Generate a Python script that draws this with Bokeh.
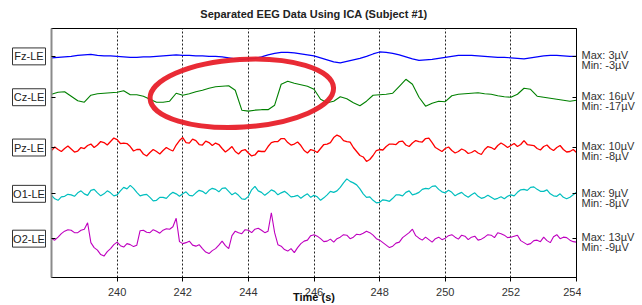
import numpy as np
from bokeh.plotting import figure
from bokeh.models import Range1d, FixedTicker, LinearAxis, CustomJSTickFormatter
from bokeh.layouts import row
from bokeh.core.properties import value
from bokeh.embed import file_html
from bokeh.resources import INLINE

# ---------------- data ----------------
t_start, t_end = 238, 254
time_coarse = np.linspace(t_start, t_end, 81)     # 0.2 s sample grid
time_fine = np.linspace(t_start, t_end, 161)      # 0.1 s sample grid

fz = [-1.5, -1, -0.5, 0, 1, 1.5, 2, 1, 0.5, 0.5,
      0, -0.5, -1, -1, -0.5, -0.5, 0, 0.5, 1, 1.5,
      1, 1, 0.5, 0.5, 0, 0, -0.5, -1.5, -2.5, -3,
      -2.5, -2, -0.5, 1.5, 3, 4, 4, 3.5, 2.5, 1.5,
      0.5, -1.5, -3.5, -5.5, -6.5, -5, -3.5, -2, 0, 2.5,
      4.5, 4, 3, 1.5, -0.5, -2.5, -4, -3.5, -3, -2,
      -1, 0, 1, 1, 1, 0.5, 0, -0.5, -1, -1,
      -1.5, -2, -2.5, -1.5, -0.5, 0.5, 1, 1, 0.5, 0, 0]

cz = [3, 5, 5.5, 1, -3.5, -5, 2, 3.5, 4, 4.5,
      5, 6.5, 2.5, 2.5, 1, -2, -5, -5, -4, 4,
      2, 3.5, 5.5, 7, 9, 10.5, 11, 11.5, 7, -13,
      -14, -13, -12.5, -12.5, -8, 13, 16, 14, 12.5, 11,
      8, -2, -5.5, -4, 0.5, -1.5, -5.5, -8.5, -4, 2,
      2.5, 3, 4, 11, 18, 13, 0, -9, -6, -4,
      -4.5, 1.5, 3, 3.5, 4, 4.5, 3.5, 3, 1.5, 0.5,
      0, 3, 9, 8, 1, 0, -1, -2, -3, -4, -3]

# noisy channels: values on the 0.2 s grid plus the in-between 0.1 s samples
pz_grid = [-3, -2, -1, -1.5, -3.5, -1, 3.5, 2.5, 5, 6,
           8, 4.5, 1, -2, -6.5, -5, -4, -3, -2, 2.5,
           10, 4.5, 7, 2.5, 5, 4.5, -1, -2, -4, -3,
           -5.5, -7.5, -4, 1, 6, 9, 5, 3.5, 2, -5.5,
           -3, -1, 3.5, 10, 11, 6, 0, -8, -14, -8,
           -2, 1, 3.5, 6, 2.5, 4.5, 6, 9, 5, -2,
           -1, -3, -4, -3, -5, -5.5, -2, 0, 2, 2.5,
           2, 1, 7, 2.5, -1, 1, -1, 0, -2, -4, -5]
pz_mid = [0.5, -4, 1.5, -4.5, 0, 2, 0, 6, 2.5, 9.5,
          4, 4, -3.5, -2, -8.5, -2, -6.5, 0, -3.5, 7,
          5, 8.5, 3, 6.5, 2, 3, -4.5, 1, -6.5, -2,
          -8.5, -3.5, -4, 5, 6, 9, 2.5, 5.5, -3, -2,
          -5, 3, 5, 12.5, 7, 5.5, -4, -9.5, -12, -3,
          -2.5, 3.5, 3, 6.5, 1, 7, 5.5, 9.5, 0, -4,
          0.5, -5.5, -1.5, -6, -3, -7, 1, -2, 4.5, 0,
          4, 3, 3, 2, -2.5, 2.5, -3, 2, -4.5, -2]

o1_grid = [-1.5, -6.5, -2.5, -1, 1, 0, 3.5, 1, 0, 1,
           -1, 6.5, 8.5, 1.5, -1, -3.5, -6.5, -3.5, -1, 0,
           0, -1.5, 1, 2.5, 3.5, 4.5, 5.5, 2.5, 1, -5,
           -2.5, 7.5, 1.5, 1, 2.5, 1, 0, -2.5, -4.5, 0,
           -1.5, -6.5, -1, 1.5, 6.5, 15, 11, 5, -3.5, -6.5,
           -8.5, -6.5, -4.5, -1, 1.5, -1, 1.5, 5.5, 7.5, 4.5,
           1, 1.5, 0, -1.5, -1, -2.5, -3.5, -3.5, -4.5, -5,
           -1, 1.5, 4.5, 6.5, 4.5, 2.5, 0, -2.5, -3.5, -3.5, 1.5]
o1_mid = [-5, -3, -0.5, -2.5, 3, -1.5, 4.5, -2, 3, -2,
          3, 5, 5.5, -2, -0.5, -7, -3.5, -4.5, 1.5, -2.5,
          2, -2, 3.5, 0, 5.5, 2, 6, -1, -1.5, -5.5,
          4, 3, -1.5, 4, -1, 2.5, -3, -1.5, -2, -3.5,
          -3, -4, 2.5, 3, 11, 12.5, 9, 0, -3, -9,
          -6, -7.5, -1, -2, 3, 0, 4.5, 5, 8, 2,
          3.5, -2, 1.5, -3.5, 1, -4.5, -1.5, -5.5, -3, -2.5,
          -2, 4, 3.5, 7, 2.5, 4, -2, 0, -5, -1]

o2_grid = [0, 1.5, 7.5, 8.5, 6, 9.5, -4, -11.5, -17.5, -10,
           -3.5, -8.5, -6, -6.5, 8.5, 6, 7.5, 8.5, 9.5, 20.5,
           -5, -2.5, -7.5, -10, -15, -10, -2.5, -10, 7.5, 5,
           8.5, 9.5, 8.5, 7.5, 6, -7.5, -12.5, -14, -5, -1.5,
           4, 0, -2.5, -3.5, 1.5, 3.5, 1.5, 4, 7.5, 3.5,
           -1.5, -6.5, -7.5, -3.5, 3.5, 9.5, 0.5, 1.5, -3.5, 1.5,
           0.5, 4, -0.5, 2.5, 1.5, -1.5, 1.5, 3.5, 6, 3.5,
           1.5, 3.5, -4, -5, -1.5, 1.5, -4, 4, 1.5, -1.5, -3.5]
o2_mid = [-1.5, 5, 9, 6, 8.5, 16, -9, -16, -13, -6,
          -7, -5, -8, 8, 6.5, 9, 5.5, 10, 12, -3,
          -4, -6.5, -6, -13.5, -12, -6.5, -7, 3, 6, 9,
          6, 10.5, 6, 26, -6, -11, -10, -9, -2.5, 3,
          2.5, -3, -0.5, 0, 4, 0, 4.5, 5.5, 6, 0,
          -4, -9, -4.5, 1, 6, 3, -1.5, -1, 0, -1,
          3, 1.5, 3.5, -1, 2.5, -0.5, 4, 1, 5, 1,
          2.5, -2, -6, -2, -3, -2, 2, 0, 1, -3]


def merge(grid, mid):
    out = []
    for g, m in zip(grid[:-1], mid):
        out += [g, m]
    return out + [grid[-1]]


channels = ["Fz-LE", "Cz-LE", "Pz-LE", "O1-LE", "O2-LE"]
series = [(time_coarse, fz), (time_coarse, cz),
          (time_fine, merge(pz_grid, pz_mid)),
          (time_fine, merge(o1_grid, o1_mid)),
          (time_fine, merge(o2_grid, o2_mid))]
offsets = [222, 181, 130.5, 84, 39]
max_uv = [3, 16, 10, 9, 13]
min_uv = [-3, -17, -8, -8, -9]
x_ticks = [240, 242, 244, 246, 248, 250, 252, 254]

# styles
colors = ["#0000ff", "#008000", "#ff0000", "#00bfbf", "#bf00bf"]
widths = [1.1, 1.1, 1.3, 1.2, 1.1]
FONT = "Liberation Sans"
H = 305
TOP, BOTTOM = 27, 28
LEFT_W, RIGHT_W, GAP = 46, 61, 5
FRAME_W = 525

# hand-drawn highlight (annotation)
circle_t, circle_y = 243.8, 185
circle_w, circle_h = 5.6, 68

yr = Range1d(0, H - TOP - BOTTOM)

# ---------------- main plot ----------------
p = figure(width=FRAME_W + 2 * GAP, height=H, output_backend="svg", toolbar_location=None,
           x_range=Range1d(t_start, t_end), y_range=yr, y_axis_location=None,
           min_border_left=GAP, min_border_right=GAP,
           min_border_top=TOP, min_border_bottom=BOTTOM)
p.background_fill_color = "white"
p.border_fill_color = "white"
p.outline_line_color = "#000000"

p.title.text = "Separated EEG Data Using ICA (Subject #1)"
p.title.align = "center"
p.title.vertical_align = "top"
p.title.text_font = FONT
p.title.text_font_size = "11px"
p.title.text_font_style = "bold"
p.title.text_color = "#222222"
p.title.standoff = 14

xa = p.xaxis[0]
xa.ticker = FixedTicker(ticks=x_ticks)
xa.axis_label = "Time (s)"
xa.axis_label_text_font = FONT
xa.axis_label_text_font_size = "11px"
xa.axis_label_text_font_style = "bold"
xa.axis_label_text_color = "#111111"
xa.axis_label_standoff = -8
xa.major_label_text_font = FONT
xa.major_label_text_font_size = "11px"
xa.major_label_text_color = "#333333"
xa.major_label_standoff = 6
xa.major_tick_in = 0
xa.major_tick_out = 4
xa.minor_tick_in = 0
xa.minor_tick_out = 0
xa.axis_line_color = "#000000"

p.xgrid.ticker = FixedTicker(ticks=x_ticks)
p.xgrid.grid_line_color = "#222222"
p.xgrid.grid_line_dash = "2 2"
p.ygrid.visible = False

for side, col, lw in (("left", "#8a8a8a", 2), ("right", "#000000", 1)):
    ax = LinearAxis(ticker=FixedTicker(ticks=offsets),
                    formatter=CustomJSTickFormatter(code="return ''"))
    ax.major_label_text_font_size = "0px"
    ax.major_label_standoff = 0
    ax.major_tick_in = 4
    ax.major_tick_out = 0
    ax.minor_tick_in = 0
    ax.minor_tick_out = 0
    ax.axis_line_color = col
    ax.axis_line_width = lw
    ax.major_tick_line_color = "#000000"
    p.add_layout(ax, side)

for (ts, tr), off, c, w in zip(series, offsets, colors, widths):
    p.line(ts, np.array(tr, dtype=float) + off, line_color=c, line_width=w)

p.ellipse(x=[circle_t], y=[circle_y], width=[circle_w], height=[circle_h], angle=0.06,
          fill_color=None, line_color="#e8202a", line_width=5, line_alpha=0.95)

# ---------------- side panels ----------------
def side_fig(w):
    f = figure(width=w, height=H, output_backend="svg", toolbar_location=None,
               x_range=Range1d(0, w), y_range=yr,
               x_axis_location=None, y_axis_location=None,
               min_border_left=0, min_border_right=0,
               min_border_top=TOP, min_border_bottom=BOTTOM)
    f.outline_line_color = None
    f.grid.visible = False
    f.background_fill_color = "white"
    f.border_fill_color = "white"
    return f

lf = side_fig(LEFT_W)
box_cx = [28.5] * len(channels)
lf.rect(x=box_cx, y=offsets, width=33, height=17, fill_color="white",
        line_color="#333333", line_width=1)
lf.text(x=box_cx, y=offsets, text=channels, text_align="center", text_baseline="middle",
        text_font=value(FONT), text_font_size=value("11px"), text_color="#222222")

rf = side_fig(RIGHT_W)
max_txt = [f"Max: {v}\u00b5V" for v in max_uv]
min_txt = [f"Min: {v}\u00b5V" for v in min_uv]
rx = [0] * len(channels)
rf.text(x=rx, y=[o + 1.3 for o in offsets], text=max_txt, text_align="left",
        text_baseline="middle", text_font=value(FONT), text_font_size=value("11px"),
        text_color="#333333")
rf.text(x=rx, y=[o - 8.7 for o in offsets], text=min_txt, text_align="left",
        text_baseline="middle", text_font=value(FONT), text_font_size=value("11px"),
        text_color="#333333")

layout = row(lf, p, rf)
open("out.html", "w").write(file_html(layout, INLINE))
